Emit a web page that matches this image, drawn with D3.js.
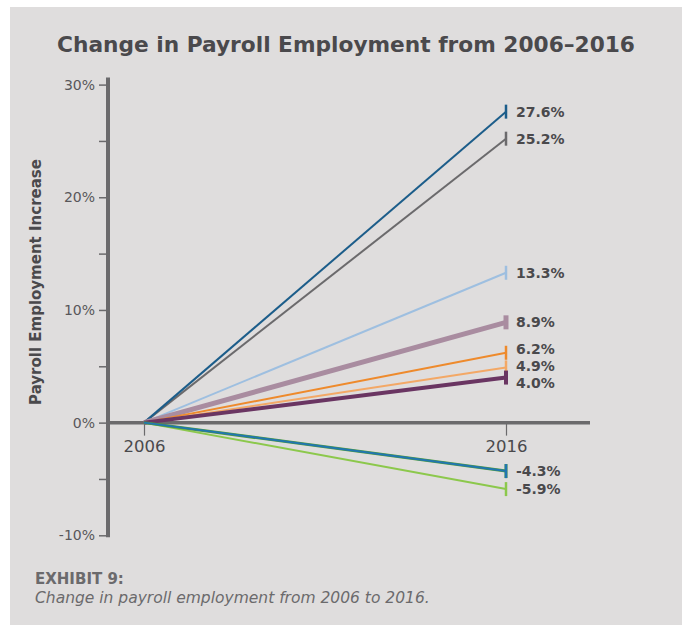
<!DOCTYPE html>
<html>
<head>
<meta charset="utf-8">
<script src="https://cdn.jsdelivr.net/npm/d3@7"></script>
<style>
  html, body { margin: 0; padding: 0; background: #fff; }
  svg { display: block; font-family: 'DejaVu Sans', sans-serif; }
</style>
</head>
<body>
<script>
  // Data
  var years = [2006, 2016]
  var series = ['s1', 's2', 's3', 's4', 's5', 's6', 's7', 's8', 's9', 's10']
  var startValues = [0, 0, 0, 0, 0, 0, 0, 0, 0, 0]
  var endValues = [27.6, 25.2, 13.3, 8.9, 6.2, 4.9, 4.0, -4.3, -4.3, -5.9]
  var endLabels = ['27.6%', '25.2%', '13.3%', '8.9%', '6.2%', '4.9%', '4.0%', '-4.3%', '', '-5.9%']
  var yTicks = [-10, -5, 0, 5, 10, 15, 20, 25, 30]
  var yTickLabels = ['-10%', '', '0%', '', '10%', '', '20%', '', '30%']

  // Styles
  var colors = ['#1c5d8a', '#6b6a6c', '#9ebfe0', '#a98ca0', '#ee8a2c', '#f3a866',
    '#6a3562', '#4e9a3c', '#2176b0', '#8cc84c']
  var widths = [2, 2, 2, 5, 2, 2, 4, 3, 2, 2]
  var drawOrder = [2, 1, 0, 3, 4, 5, 6, 9, 7, 8]

  var W = 686
  var H = 625
  var font = "'DejaVu Sans', sans-serif"

  var svg = d3.select('body').append('svg')
    .attr('width', W)
    .attr('height', H)

  svg.append('rect')
    .attr('x', 10).attr('y', 7)
    .attr('width', 672).attr('height', H)
    .attr('fill', '#dfdddd')

  svg.append('text')
    .attr('x', 346).attr('y', 52)
    .attr('text-anchor', 'middle')
    .attr('font-size', 21.7)
    .attr('font-weight', 700)
    .attr('fill', '#4a494c')
    .text('Change in Payroll Employment from 2006\u20132016')

  var x = d3.scaleLinear().domain([2006, 2016]).range([144, 506])
  var y = d3.scaleLinear().domain([-10, 30]).range([535.3, 84.6])

  // y axis
  var yAxis = d3.axisLeft(y)
    .tickValues(yTicks)
    .tickSize(9)
    .tickPadding(4)
    .tickFormat(function (d, i) { return yTickLabels[i] })

  var gy = svg.append('g')
    .attr('transform', 'translate(108,0)')
    .call(yAxis)
  gy.select('.domain').remove()
  gy.selectAll('.tick line').attr('stroke', '#6b6a6c').attr('stroke-width', 1.5)
  gy.selectAll('.tick text')
    .attr('font-family', font)
    .attr('font-size', 14)
    .attr('fill', '#58575a')
  gy.append('line')
    .attr('x1', 0).attr('x2', 0)
    .attr('y1', y(30) - 7).attr('y2', y(-10) + 2)
    .attr('stroke', '#6b6a6c')
    .attr('stroke-width', 4)

  // x axis
  var xAxis = d3.axisBottom(x)
    .tickValues(years)
    .tickSize(13)
    .tickPadding(5)
    .tickFormat(d3.format('d'))

  var gx = svg.append('g')
    .attr('transform', 'translate(0,' + y(0) + ')')
    .call(xAxis)
  gx.select('.domain').remove()
  gx.selectAll('.tick line').attr('stroke', '#6b6a6c').attr('stroke-width', 1.2)
  gx.selectAll('.tick text')
    .attr('font-family', font)
    .attr('font-size', 16.5)
    .attr('fill', '#4a494c')
  gx.append('line')
    .attr('x1', 108).attr('x2', 590)
    .attr('y1', 0).attr('y2', 0)
    .attr('stroke', '#6b6a6c')
    .attr('stroke-width', 3.5)

  // axis title
  svg.append('text')
    .attr('transform', 'translate(41,282) rotate(-90)')
    .attr('text-anchor', 'middle')
    .attr('font-size', 15)
    .attr('font-weight', 700)
    .attr('fill', '#4a494c')
    .text('Payroll Employment Increase')

  // lines
  var line = d3.line()
    .x(function (d) { return x(d.year) })
    .y(function (d) { return y(d.value) })

  var chart = svg.append('g').attr('class', 'chart')

  drawOrder.forEach(function (i) {
    var pts = [{ year: years[0], value: startValues[i] }, { year: years[1], value: endValues[i] }]
    chart.append('path')
      .datum(pts)
      .attr('class', 'line ' + series[i])
      .attr('fill', 'none')
      .attr('stroke', colors[i])
      .attr('stroke-width', widths[i])
      .attr('d', line)
    chart.append('line')
      .attr('x1', x(years[1])).attr('x2', x(years[1]))
      .attr('y1', y(endValues[i]) - 7).attr('y2', y(endValues[i]) + 7)
      .attr('stroke', colors[i])
      .attr('stroke-width', Math.max(widths[i], 2.5))
  })

  // end labels, nudged apart where they crowd
  var labelY = endValues.map(function (v) { return y(v) })
  var gap = 16.8
  for (var k = 0; k < 40; k++) {
    for (var a = 0; a < labelY.length; a++) {
      for (var b = a + 1; b < labelY.length; b++) {
        if (!endLabels[a] || !endLabels[b]) continue
        var d = labelY[b] - labelY[a]
        if (Math.abs(d) < gap) {
          var push = (gap - Math.abs(d)) / 2 * (d >= 0 ? 1 : -1)
          labelY[a] -= push
          labelY[b] += push
        }
      }
    }
  }

  chart.selectAll('.label')
    .data(endLabels)
    .enter().append('text')
      .attr('class', 'label')
      .attr('x', x(years[1]) + 10)
      .attr('y', function (d, i) { return labelY[i] })
      .attr('dy', '0.36em')
      .attr('font-size', 14)
      .attr('font-weight', 700)
      .attr('fill', '#4a494c')
      .text(function (d) { return d })

  // caption
  svg.append('text')
    .attr('x', 35).attr('y', 584)
    .attr('font-size', 15)
    .attr('font-weight', 700)
    .attr('fill', '#6b6a6c')
    .text('EXHIBIT 9:')

  svg.append('text')
    .attr('x', 35).attr('y', 603)
    .attr('font-size', 15.5)
    .attr('font-style', 'italic')
    .attr('fill', '#6b6a6c')
    .text('Change in payroll employment from 2006 to 2016.')
</script>
</body>
</html>
